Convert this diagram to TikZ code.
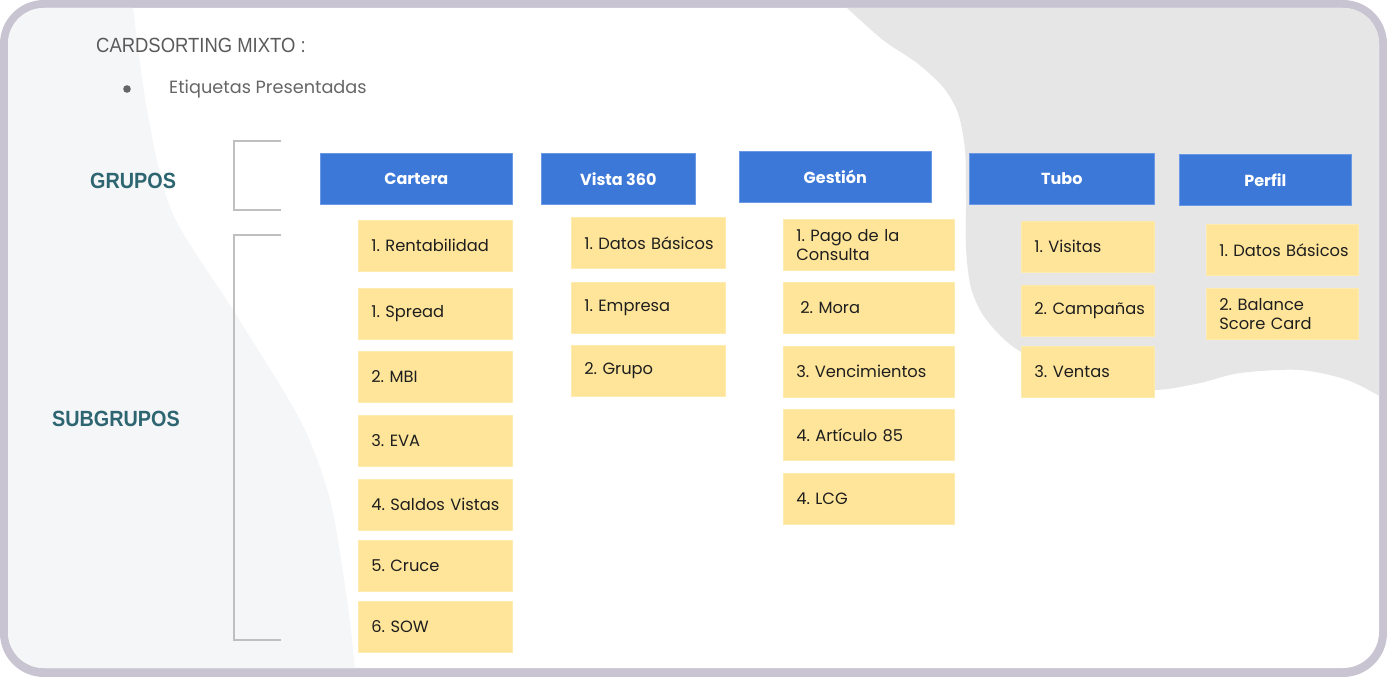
\documentclass[tikz,border=0pt]{standalone}
\usepackage{fontspec}
\setmainfont{Poppins}
\newfontfamily\titlefont[FakeStretch=0.9]{Liberation Sans}
\newfontfamily\geofont{Poppins}
\frenchspacing
\hyphenpenalty=10000
\exhyphenpenalty=10000
\newcommand\cpad{\hspace*{13pt}}
\definecolor{frameC}{HTML}{C9C4D1}
\definecolor{leftbg}{HTML}{F5F6F8}
\definecolor{rightbg}{HTML}{E6E6E6}
\definecolor{hdrC}{HTML}{3C78D8}
\definecolor{hdrE}{HTML}{6A98E4}
\definecolor{cardC}{HTML}{FFE599}
\definecolor{cardE}{HTML}{FFEBB0}
\definecolor{grpC}{HTML}{2D6570}
\definecolor{titleC}{HTML}{5A5A5A}
\definecolor{subC}{HTML}{666666}
\definecolor{brkC}{HTML}{BFBFBF}
\definecolor{cardT}{HTML}{1E1E1E}
\begin{document}
\begin{tikzpicture}[x=1pt,y=-1pt,
  hdr/.style={fill=hdrC, draw=hdrE, line width=0.6pt, anchor=north west, inner sep=0pt,
    minimum height=51pt, text=white, font=\geofont\bfseries\fontsize{16}{19}\selectfont},
  card/.style={fill=cardC, draw=cardE, line width=0.6pt, anchor=north west, inner xsep=0pt, inner ysep=0pt,
    minimum height=51pt, align=left, text=cardT, font=\geofont\fontsize{16.3}{19.5}\selectfont},
  brk/.style={draw=brkC, line width=1.5pt},
  grp/.style={text=grpC, font=\titlefont\bfseries\fontsize{22}{26}\selectfont, inner sep=0pt}
]
\useasboundingbox (0,0) rectangle (1387,677);
\fill[frameC, rounded corners=44pt] (0,0) rectangle (1387,677);
\fill[white, rounded corners=36pt] (8,8) rectangle (1379,668);
\begin{scope}
\clip[rounded corners=36pt] (8,8) rectangle (1379,668);
\fill[leftbg] (0,0) -- (133,0) -- plot[smooth] coordinates {(133,8) (147,110) (172,212) (233,310) (300,420) (330,500) (347,600) (355,668) (356,680)} -- (0,680) -- cycle;
\fill[rightbg] (845,0) -- plot[smooth] coordinates {(847,8) (883,40) (917,63) (943,87) (958,113) (965,150) (966,200) (966,248) (971,288) (985,318) (1012,346) (1050,367) (1100,383) (1154,390) (1200,383) (1240,373) (1300,370) (1350,381) (1395,405)} -- (1395,0) -- cycle;
\end{scope}

% title texts
\node[anchor=west, inner sep=0pt, text=titleC, font=\titlefont\fontsize{20.5}{24}\selectfont] (title) at (96,45) {CARDSORTING MIXTO :};
\fill[subC] (127,89) circle (3.8pt);
\node[anchor=west, inner sep=0pt, text=subC, font=\geofont\fontsize{17.7}{21}\selectfont] (sub) at (169,89) {Etiquetas Presentadas};

% group labels
\node[grp, anchor=west] (grupos) at (90,181) {GRUPOS};
\node[grp, anchor=west] (subgrupos) at (52,419) {SUBGRUPOS};

% brackets
\coordinate (b1a) at (281,141); \coordinate (b1b) at (281,210);
\coordinate (b2a) at (281,235); \coordinate (b2b) at (281,640);
\draw[brk] (b1a) -- (234,141) -- (234,210) -- (b1b);
\draw[brk] (b2a) -- (234,235) -- (234,640) -- (b2b);

% headers
\node[hdr, minimum width=192pt] (hCartera) at (320,153) {Cartera};
\node[hdr, minimum width=154pt] (hVista) at (541,153) {Vista 360};
\node[hdr, minimum width=192pt] (hGestion) at (739,151) {Gestión};
\node[hdr, minimum width=185pt] (hTubo) at (969,153) {Tubo};
\node[hdr, minimum width=172pt] (hPerfil) at (1179,154) {Perfil};

% Cartera cards
\node[card, text width=154pt] (c1) at (358,220) {\cpad 1. Rentabilidad};
\node[card, text width=154pt] (c2) at (358,288) {\cpad 1. Spread};
\node[card, text width=154pt] (c3) at (358,351) {\cpad 2. MBI};
\node[card, text width=154pt] (c4) at (358,415) {\cpad 3. EVA};
\node[card, text width=154pt] (c5) at (358,479) {\cpad 4. Saldos Vistas};
\node[card, text width=154pt] (c6) at (358,540) {\cpad 5. Cruce};
\node[card, text width=154pt] (c7) at (358,601) {\cpad 6. SOW};

% Vista 360 cards
\node[card, text width=154pt] (v1) at (571,217) {\cpad 1. Datos Básicos};
\node[card, text width=154pt] (v2) at (571,282) {\cpad 1. Empresa};
\node[card, text width=154pt] (v3) at (571,345) {\cpad 2. Grupo};

% Gestion cards
\node[card, text width=171pt] (g1) at (783,219) {\cpad 1. Pago de la\\\cpad Consulta};
\node[card, text width=171pt] (g2) at (783,282) {\cpad\hspace*{4pt}2. Mora};
\node[card, text width=171pt] (g3) at (783,346) {\cpad 3. Vencimientos};
\node[card, text width=171pt] (g4) at (783,409) {\cpad 4. Artículo 85};
\node[card, text width=171pt] (g5) at (783,473) {\cpad 4. LCG};

% Tubo cards
\node[card, text width=133pt] (t1) at (1021,221) {\cpad 1. Visitas};
\node[card, text width=133pt] (t2) at (1021,285) {\cpad 2. Campañas};
\node[card, text width=133pt] (t3) at (1021,346) {\cpad 3. Ventas};

% Perfil cards
\node[card, text width=152pt] (p1) at (1206,224) {\cpad 1. Datos Básicos};
\node[card, text width=152pt] (p2) at (1206,288) {\cpad 2. Balance\\\cpad Score Card};
\end{tikzpicture}
\end{document}
